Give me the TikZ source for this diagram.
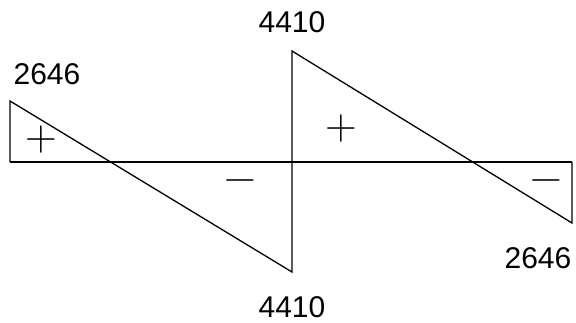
\documentclass[tikz,border=0pt]{standalone}
\usepackage{fontspec}
\setmainfont{Liberation Sans}
\newfontfamily\signfont{Latin Modern Roman}
\usetikzlibrary{positioning}

\begin{document}
\begin{tikzpicture}[
    x=1pt, y=-1pt,
    diag/.style={line width=1.3pt, line join=miter},
    value/.style={font=\fontsize{30}{32}\selectfont, inner sep=0pt},
    sign/.style={font=\signfont\fontsize{44}{46}\selectfont, inner sep=0pt},
]
\useasboundingbox (0,0) rectangle (576,323);

% base line and end points
\coordinate (a0) at (10,162);
\coordinate (a1) at (10,101);
\coordinate (m0) at (292,162);
\coordinate (m1) at (292,272);
\coordinate (m2) at (292,51);
\coordinate (b0) at (572,162);
\coordinate (b1) at (572,223);

\draw[diag] (a0) -- (b0);
\draw[diag] (a0) -- (a1) -- (m1) -- (m2) -- (b1) -- (b0);

% values
\node[value] (vl) at (47,74) {2646};
\node[value] (vt) at (292,22) {4410};
\node[value] (vb) at (292,307) {4410};
\node[value] (vr) at (538,258) {2646};

% signs
\node[sign] (pl) at (41,140) {+};
\node[sign] (nl) at (240,186) {−};
\node[sign] (pr) at (341,129) {+};
\node[sign] (nr) at (546,186) {−};
\end{tikzpicture}
\end{document}
